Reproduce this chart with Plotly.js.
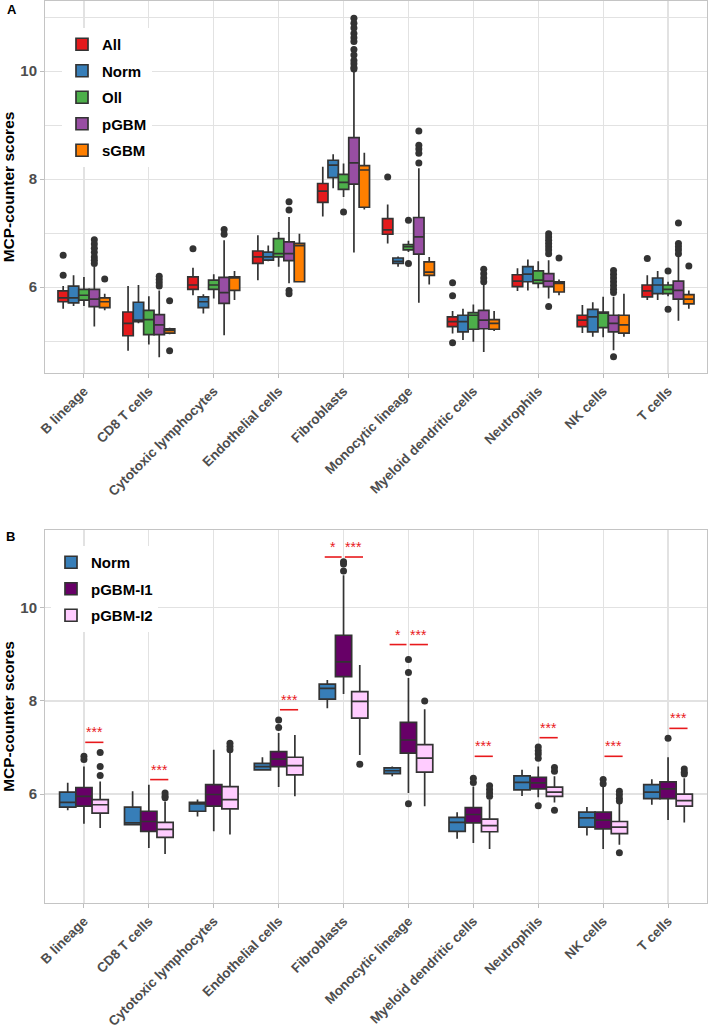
<!DOCTYPE html>
<html><head><meta charset="utf-8">
<script src="https://cdn.plot.ly/plotly-3.0.1.min.js"></script>
<style>html,body{margin:0;padding:0;background:#fff}#chart{width:709px;height:1030px}</style>
</head><body><div id="chart"></div>
<script>
const categories = ["B lineage","CD8 T cells","Cytotoxic lymphocytes","Endothelial cells","Fibroblasts","Monocytic lineage","Myeloid dendritic cells","Neutrophils","NK cells","T cells"];

// ---------- Panel A ----------
const seriesA = ["All","Norm","Oll","pGBM","sGBM"];
const colorsA = ["#E41A1C","#377EB8","#4DAF4A","#984EA3","#FF7F00"];

const allQ1  = [5.73,5.10,5.96,6.44,7.57,6.98,5.27,6.01,5.27,5.82];
const allMed = [5.80,5.33,6.04,6.56,7.78,7.06,5.36,6.11,5.39,5.93];
const allQ3  = [5.93,5.54,6.19,6.67,7.92,7.27,5.45,6.23,5.48,6.04];
const allLo  = [5.60,4.82,5.85,6.13,7.31,6.81,5.14,5.93,5.15,5.76];
const allHi  = [6.02,6.02,6.36,6.96,8.23,7.53,5.56,6.35,5.67,6.22];
const allOut = [[6.59,6.22],[],[6.71],[],[],[8.04],[6.08,5.84,4.97],[],[],[6.53]];

const normAQ1  = [5.71,5.36,5.62,6.50,8.03,6.44,5.17,6.10,5.17,5.88];
const normAMed = [5.80,5.39,5.73,6.56,8.26,6.48,5.36,6.24,5.45,6.04];
const normAQ3  = [6.02,5.72,5.82,6.65,8.35,6.54,5.48,6.38,5.59,6.17];
const normALo  = [5.65,5.33,5.51,6.48,7.83,6.38,5.02,5.94,5.08,5.76];
const normAHi  = [6.22,6.04,5.87,6.77,8.46,6.57,5.60,6.51,5.72,6.30];
const normAOut = [[],[],[],[],[],[],[],[],[],[]];

const ollQ1  = [5.76,5.12,5.96,6.56,7.81,6.69,5.22,6.07,5.25,5.88];
const ollMed = [5.85,5.40,6.04,6.62,7.94,6.75,5.48,6.13,5.52,5.96];
const ollQ3  = [5.96,5.57,6.13,6.90,8.09,6.79,5.53,6.30,5.54,6.04];
const ollLo  = [5.65,4.94,5.79,6.38,7.67,6.65,4.99,5.98,5.07,5.83];
const ollHi  = [6.19,5.83,6.24,7.02,8.29,6.86,5.68,6.48,5.82,6.10];
const ollOut = [[],[],[],[],[7.39],[7.24,6.44],[],[],[],[6.30,5.59]];

const pgbmQ1  = [5.64,5.12,5.70,6.49,7.91,6.61,5.23,6.01,5.17,5.78];
const pgbmMed = [5.78,5.30,5.90,6.62,8.30,6.93,5.39,6.11,5.33,5.94];
const pgbmQ3  = [5.96,5.49,6.18,6.84,8.77,7.29,5.57,6.25,5.48,6.11];
const pgbmLo  = [5.27,4.70,5.11,6.07,6.64,5.71,4.80,5.79,4.83,5.38];
const pgbmHi  = [6.38,5.94,6.87,7.30,9.99,8.20,6.05,6.50,5.82,6.58];
const pgbmOut = [[6.88,6.80,6.72,6.64,6.56,6.50,6.44],[6.20,6.14,6.08,6.02],[7.07,6.98],[7.58,7.43,5.94,5.88],
  [10.98,10.89,10.80,10.70,10.62,10.55,10.40,10.30,10.20,10.14,10.07,10.04],[8.89,8.63,8.56,8.48,8.30],
  [6.33,6.25,6.17,6.10],[6.99,6.93,6.87,6.81,6.75,6.69,6.62,5.64],[6.31,6.24,6.17,6.10,6.03,5.96,5.90,4.71],[7.19,6.81,6.75,6.69,6.62]];

const sgbmQ1  = [5.62,5.15,5.94,6.10,7.48,6.22,5.22,5.91,5.15,5.69];
const sgbmMed = [5.73,5.20,6.17,6.77,8.17,6.28,5.33,6.07,5.30,5.78];
const sgbmQ3  = [5.80,5.23,6.19,6.81,8.25,6.47,5.40,6.10,5.48,5.86];
const sgbmLo  = [5.57,5.13,5.76,6.10,7.44,6.05,5.19,5.85,5.08,5.60];
const sgbmHi  = [5.88,5.25,6.30,6.99,8.49,6.56,5.56,6.14,5.88,5.94];
const sgbmOut = [[6.15],[5.75,4.82],[],[],[],[],[],[6.54],[],[6.39]];

// ---------- Panel B ----------
const seriesB = ["Norm","pGBM-I1","pGBM-I2"];
const colorsB = ["#377EB8","#670067","#FFCCFF"];

const normBQ1  = [5.72,5.34,5.63,6.52,8.04,6.44,5.20,6.09,5.29,5.90];
const normBMed = [5.82,5.38,5.79,6.59,8.27,6.50,5.39,6.25,5.49,6.04];
const normBQ3  = [6.04,5.72,5.82,6.66,8.36,6.56,5.50,6.39,5.61,6.20];
const normBLo  = [5.65,5.34,5.52,6.51,7.84,6.38,5.04,5.96,5.11,5.77];
const normBHi  = [6.24,6.06,5.88,6.79,8.45,6.59,5.61,6.52,5.72,6.32];
const normBOut = [[],[],[],[],[],[],[],[],[],[]];

const i1Q1  = [5.74,5.20,5.74,6.59,8.52,6.88,5.38,6.11,5.25,5.90];
const i1Med = [5.95,5.41,5.99,6.75,8.84,7.16,5.56,6.24,5.44,6.11];
const i1Q3  = [6.14,5.63,6.20,6.91,9.41,7.54,5.71,6.36,5.61,6.26];
const i1Lo  = [5.36,4.84,5.20,6.15,8.15,6.02,4.95,5.93,4.82,5.44];
const i1Hi  = [6.59,6.20,6.95,7.31,10.70,8.49,6.16,6.59,6.16,6.79];
const i1Out = [[6.81,6.74],[],[],[7.59,7.43],[10.99,10.94,10.79],[8.89,8.61,5.79],[6.34,6.25],[7.01,6.93,6.86,6.77,5.75],[6.31,6.22],[7.20]];

const i2Q1  = [5.59,5.07,5.68,6.41,7.63,6.47,5.19,5.95,5.15,5.74];
const i2Med = [5.77,5.24,5.88,6.61,7.99,6.77,5.32,6.04,5.29,5.86];
const i2Q3  = [5.88,5.39,6.16,6.79,8.20,7.06,5.46,6.15,5.41,6.00];
const i2Lo  = [5.27,4.71,5.13,5.95,6.84,5.74,4.82,5.82,4.91,5.39];
const i2Hi  = [6.27,5.84,6.88,7.27,8.77,7.82,5.88,6.38,5.80,6.34];
const i2Out = [[6.89,6.59,6.40],[6.02,5.96,5.92],[7.09,7.02,6.95],[],[6.64],[8.00],[6.18,6.10,6.02,5.95],[6.57,6.49,5.65],[6.06,5.99,5.91,5.85,4.74],[6.54,6.47,6.43]];

// significance marks in panel B: category index, compared groups, bar level, label
const sigCat   = [0,1,3,4,4,5,5,6,7,8,9];
const sigFrom  = [1,1,1,0,1,0,1,1,1,1,1];
const sigTo    = [2,2,2,1,2,1,2,2,2,2,2];
const sigLevel = [7.11,6.31,7.81,11.09,11.09,9.21,9.21,6.81,7.21,6.81,7.41];
const sigLabel = ["***","***","***","*","***","*","***","***","***","***","***"];

// ---------- build ----------
const FONT = "Liberation Sans, Arial, Helvetica, sans-serif";
const traces = [];
function addSeries(name, color, q1, med, q3, lo, hi, out, k, n, slot, xa, ya, leg) {
  const pos = categories.map((c, i) => i + (k - (n - 1) / 2) * slot);
  traces.push({
    type: "box", name: name, x: pos, q1: q1, median: med, q3: q3,
    lowerfence: lo, upperfence: hi, width: slot, orientation: "v",
    fillcolor: color, line: {color: "#333333", width: 1.7}, whiskerwidth: 0,
    boxpoints: false, xaxis: xa, yaxis: ya, legend: leg, legendgroup: leg + name,
    hoverinfo: "skip"
  });
  const ox = [], oy = [];
  out.forEach((arr, i) => arr.forEach(v => { ox.push(pos[i]); oy.push(v); }));
  traces.push({
    type: "scatter", mode: "markers", x: ox, y: oy, xaxis: xa, yaxis: ya,
    marker: {color: "#333333", size: 7}, showlegend: false, legendgroup: leg + name,
    hoverinfo: "skip"
  });
}
const statsA = [
  [allQ1, allMed, allQ3, allLo, allHi, allOut],
  [normAQ1, normAMed, normAQ3, normALo, normAHi, normAOut],
  [ollQ1, ollMed, ollQ3, ollLo, ollHi, ollOut],
  [pgbmQ1, pgbmMed, pgbmQ3, pgbmLo, pgbmHi, pgbmOut],
  [sgbmQ1, sgbmMed, sgbmQ3, sgbmLo, sgbmHi, sgbmOut]
];
const slotA = 0.16, slotB = 0.25;
statsA.forEach((s, k) => addSeries(seriesA[k], colorsA[k], s[0], s[1], s[2], s[3], s[4], s[5], k, 5, slotA, "x", "y", "legend"));
const statsB = [
  [normBQ1, normBMed, normBQ3, normBLo, normBHi, normBOut],
  [i1Q1, i1Med, i1Q3, i1Lo, i1Hi, i1Out],
  [i2Q1, i2Med, i2Q3, i2Lo, i2Hi, i2Out]
];
statsB.forEach((s, k) => addSeries(seriesB[k], colorsB[k], s[0], s[1], s[2], s[3], s[4], s[5], k, 3, slotB, "x2", "y2", "legend2"));

const shapes = [], annotations = [];
sigCat.forEach((c, i) => {
  const a = c + (sigFrom[i] - 1) * slotB, b = c + (sigTo[i] - 1) * slotB;
  const left = sigFrom[i] === 0;
  const x0 = left ? a - 0.04 : a + 0.02, x1 = left ? b - 0.03 : b + 0.05;
  shapes.push({type: "line", xref: "x2", yref: "y2", x0: x0, x1: x1, y0: sigLevel[i], y1: sigLevel[i],
    line: {color: "#E8191C", width: 1.6}});
  annotations.push({xref: "x2", yref: "y2", x: (x0 + x1) / 2, y: sigLevel[i], text: sigLabel[i],
    showarrow: false, yanchor: "bottom", yshift: 0,
    font: {family: FONT, size: 14, color: "#E8191C"}});
});
annotations.push({xref: "paper", yref: "paper", x: 12 / 709, y: 1 - 10 / 1030, text: "A", showarrow: false,
  xanchor: "center", yanchor: "middle", font: {family: FONT, size: 13, color: "#000", weight: "bold"}});
annotations.push({xref: "paper", yref: "paper", x: 10 / 709, y: 1 - 536 / 1030, text: "B", showarrow: false,
  xanchor: "center", yanchor: "middle", font: {family: FONT, size: 13, color: "#000", weight: "bold"}});

const tickFont = {family: FONT, size: 13.5, color: "#4D4D4D", weight: "bold"};
function xAxis(anchor) {
  return {domain: [45 / 709, 707 / 709], range: [-0.6, 9.6], anchor: anchor,
    tickmode: "array", tickvals: categories.map((c, i) => i), ticktext: categories,
    tickangle: -45, tickfont: tickFont, ticks: "outside", ticklen: 4, tickcolor: "#BDBDBD",
    showgrid: true, gridcolor: "#E2E2E2", gridwidth: 1.2, zeroline: false,
    showline: true, mirror: true, linecolor: "#C4C4C4", linewidth: 1, automargin: false};
}
function yAxis(anchor, dom, rng, minor) {
  const ax = {domain: dom, range: rng, anchor: anchor, tickmode: "array", tickvals: [6, 8, 10],
    tickfont: {family: FONT, size: 15, color: "#4D4D4D", weight: "bold"},
    ticks: "outside", ticklen: 4, tickcolor: "#BDBDBD",
    showgrid: true, gridcolor: "#E2E2E2", gridwidth: 1.2, zeroline: false,
    showline: true, mirror: true, linecolor: "#C4C4C4", linewidth: 1, automargin: false,
    title: {text: "MCP-counter scores", font: {family: FONT, size: 15.5, color: "#000", weight: "bold"}, standoff: 4}};
  if (minor) ax.minor = {tickvals: [5, 7, 9, 11], showgrid: true, gridcolor: "#E2E2E2", gridwidth: 1.2, ticks: ""};
  return ax;
}

const layout = {
  width: 709, height: 1030, margin: {l: 0, r: 0, t: 0, b: 0},
  paper_bgcolor: "#FFFFFF", plot_bgcolor: "#FFFFFF",
  font: {family: FONT},
  boxmode: "overlay", showlegend: true,
  xaxis: xAxis("y"),
  yaxis: yAxis("x", [(1030 - 373) / 1030, (1030 - 1) / 1030], [4.41, 11.3], true),
  xaxis2: xAxis("y2"),
  yaxis2: yAxis("x2", [(1030 - 903) / 1030, (1030 - 530) / 1030], [3.66, 11.67], false),
  legend: {x: 62 / 709, y: 1 - 28 / 1030, xanchor: "left", yanchor: "top", bgcolor: "#FFFFFF",
    font: {family: FONT, size: 15, color: "#000", weight: "bold"}, tracegroupgap: 4, borderwidth: 0},
  legend2: {x: 51 / 709, y: 1 - 546 / 1030, xanchor: "left", yanchor: "top", bgcolor: "#FFFFFF",
    font: {family: FONT, size: 15, color: "#000", weight: "bold"}, tracegroupgap: 4, borderwidth: 0},
  shapes: shapes, annotations: annotations
};
Plotly.newPlot("chart", traces, layout, {staticPlot: true, displayModeBar: false});
</script>
</body></html>
